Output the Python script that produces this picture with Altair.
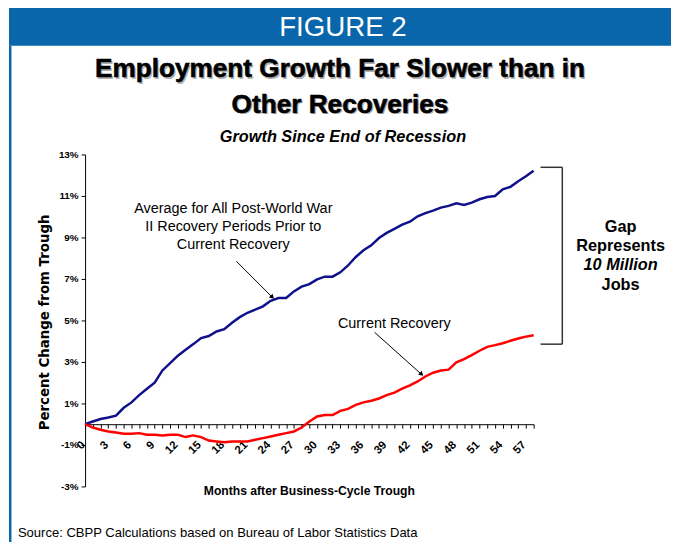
import altair as alt
import pandas as pd

# ---------------- data ----------------
months = list(range(59))
avg_prior = [0.00, 0.13, 0.25, 0.32, 0.41, 0.79, 1.05, 1.40, 1.71, 2.00,
             2.59, 2.94, 3.30, 3.59, 3.86, 4.15, 4.25, 4.47, 4.58, 4.89,
             5.16, 5.37, 5.52, 5.68, 5.95, 6.08, 6.08, 6.40, 6.63, 6.75,
             6.98, 7.11, 7.11, 7.32, 7.65, 8.06, 8.38, 8.62, 8.97, 9.22,
             9.41, 9.62, 9.76, 10.02, 10.17, 10.29, 10.44, 10.52, 10.65, 10.57,
             10.68, 10.84, 10.95, 11.00, 11.32, 11.44, 11.71, 11.95, 12.22]
current = [0.00, -0.16, -0.27, -0.35, -0.40, -0.46, -0.46, -0.43, -0.51, -0.51,
           -0.54, -0.51, -0.51, -0.62, -0.54, -0.62, -0.79, -0.83, -0.87, -0.83,
           -0.83, -0.83, -0.75, -0.67, -0.59, -0.51, -0.43, -0.35, -0.16, 0.13,
           0.37, 0.44, 0.44, 0.64, 0.74, 0.93, 1.05, 1.13, 1.24, 1.40,
           1.52, 1.71, 1.87, 2.06, 2.30, 2.48, 2.59, 2.63, 2.98, 3.14,
           3.33, 3.54, 3.73, 3.81, 3.90, 4.02, 4.13, 4.22, 4.29]
series_names = ["Average prior recoveries", "Current recovery"]
series_colors = ["#10108C", "#FF0000"]
y_ticks = [-3, -1, 1, 3, 5, 7, 9, 11, 13]

df = pd.DataFrame({
    "month": months * 2,
    "value": avg_prior + current,
    "series": [series_names[0]] * len(months) + [series_names[1]] * len(months),
})

W, H = 454, 336
SANS = "Liberation Sans, Arial, sans-serif"

lines = alt.Chart(df).mark_line(strokeWidth=2.5).encode(
    x=alt.X("month:Q",
            scale=alt.Scale(domain=[0, 58], nice=False, zero=False),
            axis=alt.Axis(values=months,
                          labelExpr="datum.value % 3 == 0 ? datum.value : ''",
                          offset=-63, title=None, tickSize=4, grid=False,
                          labelAngle=315, labelAlign="right", labelBaseline="middle",
                          labelPadding=15, labelOffset=-2, labelOverlap=False,
                          labelFlush=False,
                          labelFont=SANS, labelFontSize=11.5, labelFontWeight="bold",
                          labelColor="black", domainColor="black", tickColor="black")),
    y=alt.Y("value:Q",
            scale=alt.Scale(domain=[-3, 13], nice=False, zero=False),
            axis=alt.Axis(values=y_ticks, labelExpr="datum.value + '%'",
                          title=None, grid=False, tickSize=4, labelPadding=3,
                          labelFont=SANS, labelFontSize=10, labelFontWeight="bold",
                          labelColor="black", domainColor="black", tickColor="black")),
    color=alt.Color("series:N",
                    scale=alt.Scale(domain=series_names, range=series_colors),
                    legend=None),
)

ann = pd.DataFrame({"k": [0]})


def txt(text, x, y, size, weight="normal", style="normal", color="black",
        align="center", baseline="alphabetic", font=SANS, angle=0,
        lineHeight=None, stroke=None, strokeWidth=0):
    kw = dict(fontSize=size, fontWeight=weight, fontStyle=style, color=color,
              align=align, baseline=baseline, font=font, angle=angle)
    if lineHeight is not None:
        kw["lineHeight"] = lineHeight
        kw["lineBreak"] = "\n"
    if stroke is not None:
        kw["stroke"] = stroke
        kw["strokeWidth"] = strokeWidth
    return alt.Chart(ann).mark_text(**kw).encode(
        x=alt.value(x), y=alt.value(y), text=alt.value(text))


def rect(x, x2, y, y2, color):
    return alt.Chart(ann).mark_rect(color=color).encode(
        x=alt.value(x), x2=alt.value(x2), y=alt.value(y), y2=alt.value(y2))


def rule(x, y, x2, y2, color="black", width=1.0):
    return alt.Chart(ann).mark_rule(color=color, strokeWidth=width).encode(
        x=alt.value(x), y=alt.value(y), x2=alt.value(x2), y2=alt.value(y2))


def arrowhead(x, y, angle):
    return alt.Chart(ann).mark_point(shape="triangle", filled=True, color="black",
                                     size=28, angle=angle, opacity=1).encode(
        x=alt.value(x), y=alt.value(y))


BLUE = "#0A66AA"
layers = [
    rect(-77, 600, -150, -110, BLUE),
    rect(-77, -74.5, -110, 400, BLUE),
    txt("FIGURE 2", 261, -120, 28, color="white", font=SANS),
    # title with shadow
    txt("Employment Growth Far Slower than in", 259.5, -76.5, 26.5, weight="bold", color="#B0B0B0"),
    txt("Other Recoveries", 259.5, -40.5, 26.5, weight="bold", color="#B0B0B0"),
    txt("Employment Growth Far Slower than in", 258, -78, 26.5, weight="bold",
        stroke="black", strokeWidth=0.6),
    txt("Other Recoveries", 258, -42, 26.5, weight="bold", stroke="black", strokeWidth=0.6),
    txt("Growth Since End of Recession", 261, -13, 16.5, weight="bold", style="italic"),
    # axis titles
    txt("Percent Change from Trough", -40, 170, 13.5, weight="bold",
        font="DejaVu Sans", angle=270, baseline="middle"),
    txt("Months after Business-Cycle Trough", 227, 345, 12.3, weight="bold"),
    # annotations
    txt("Average for All Post-World War\nII Recovery Periods Prior to\nCurrent Recovery",
        150, 55, 14.6, baseline="middle", lineHeight=18.5),
    rule(153, 108, 190, 145),
    arrowhead(189, 144, 135),
    txt("Current Recovery", 313, 172, 14.6, baseline="middle"),
    rule(293, 180, 341, 223),
    arrowhead(340, 222, 132),
    # bracket
    rule(483, 13, 483, 192, color="#333333", width=1.5),
    rule(461, 13, 483, 13, color="#333333", width=1.5),
    rule(461, 192, 483, 192, color="#333333", width=1.5),
    txt("Gap", 542, 73, 16.5, weight="bold", baseline="middle"),
    txt("Represents", 542, 93, 16.5, weight="bold", baseline="middle"),
    txt("10 Million", 542, 112, 16.5, weight="bold", style="italic", baseline="middle"),
    txt("Jobs", 542, 132, 16.5, weight="bold", baseline="middle"),
    # source
    txt("Source:  CBPP Calculations based on Bureau of Labor Statistics Data",
        -68, 387, 13.2, align="left"),
]

chart = alt.layer(lines, *layers).properties(
    width=W, height=H,
    padding={"left": 78, "top": 145, "right": 139, "bottom": 53},
    autosize=alt.AutoSizeParams(type="none"),
    background="white",
).configure_view(stroke=None)

chart.save("out.html", embed_options={"renderer": "svg", "actions": False})
